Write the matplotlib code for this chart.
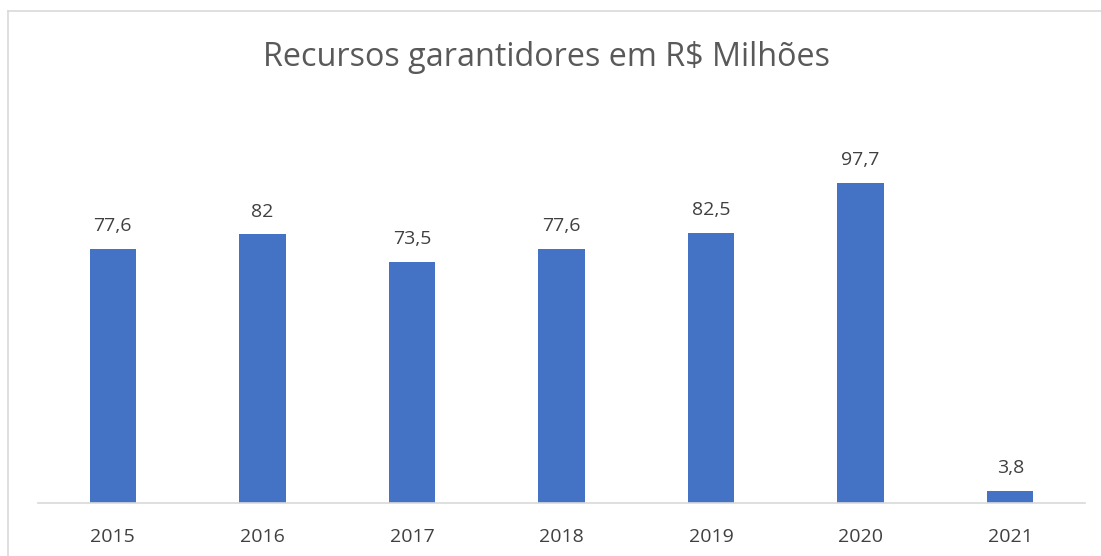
import matplotlib
matplotlib.use("Agg")
import matplotlib.pyplot as plt
from matplotlib.lines import Line2D

categories = ["2015", "2016", "2017", "2018", "2019", "2020", "2021"]
values = [77.6, 82, 73.5, 77.6, 82.5, 97.7, 3.8]
labels = ["77,6", "82", "73,5", "77,6", "82,5", "97,7", "3,8"]

plt.rcParams['font.family'] = ['Open Sans', 'DejaVu Sans']
W, H = 1101, 556
fig = plt.figure(figsize=(W/100, H/100), dpi=100)
fig.patch.set_facecolor("white")

ax = fig.add_axes([38/W, 1-503/H, (1085-38)/W, (503-110)/H])
x = range(len(categories))
ax.bar(x, values, width=0.31, color="#4472C4", zorder=2)
ax.set_xlim(-0.5, len(categories)-0.5)
ax.set_ylim(0, 120)
for s in ["top", "right", "left"]:
    ax.spines[s].set_visible(False)
ax.spines["bottom"].set_color("#D9D9D9")
ax.spines["bottom"].set_linewidth(1.2)
ax.set_yticks([])
ax.set_xticks(list(x))
ax.set_xticklabels(categories, fontsize=14, color="#404040")
ax.tick_params(axis="x", length=0, pad=18)
for i, (v, l) in enumerate(zip(values, labels)):
    ax.annotate(l, (i, v), xytext=(0, 10), textcoords="offset points",
                ha="center", va="bottom", fontsize=14, color="#404040")

fig.text(0.496, 1-58/H, "Recursos garantidores em R$ Milhões", ha="center", va="center",
         fontsize=23.3, color="#595959")

fig.add_artist(Line2D([8/W, 1], [1-11/H, 1-11/H], color="#D9D9D9", lw=1.2, transform=fig.transFigure))
fig.add_artist(Line2D([8/W, 8/W], [0, 1-11/H], color="#D9D9D9", lw=1.2, transform=fig.transFigure))

fig.savefig("out.png", dpi=100, facecolor="white")
